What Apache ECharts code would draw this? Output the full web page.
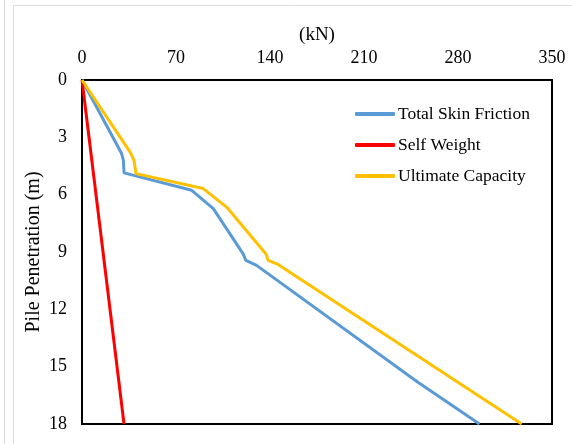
<!DOCTYPE html>
<html>
<head>
<meta charset="utf-8">
<script src="https://cdn.jsdelivr.net/npm/echarts@6/dist/echarts.min.js"></script>
<style>
html,body{margin:0;padding:0;background:#fff;}
#chart{width:572px;height:444px;}
</style>
</head>
<body>
<div id="chart"></div>
<script>
var xTicks = [0, 70, 140, 210, 280, 350];
var yTicks = [0, 3, 6, 9, 12, 15, 18];

var skinForce = [0, 29.5, 30.8, 31.3, 81.7, 97.8, 120, 122, 130, 250.4, 254, 296];
var skinDepth = [0, 3.85, 4.2, 4.86, 5.77, 6.73, 9.1, 9.44, 9.7, 15.83, 16.0, 18];

var selfForce = [0, 31.3];
var selfDepth = [0, 18];

var capForce = [0, 36.2, 38.7, 40.2, 90.3, 107.7, 137, 138.7, 146, 327.4];
var capDepth = [0, 3.81, 4.2, 4.9, 5.68, 6.65, 9.1, 9.44, 9.65, 18];

function pairs(xs, ys) {
  return xs.map(function (x, i) { return [x, ys[i]]; });
}

var font = "'Liberation Serif', 'Times New Roman', serif";
var chart = echarts.init(document.getElementById('chart'), null, {renderer: 'canvas'});
chart.setOption({
  animation: false,
  backgroundColor: '#fff',
  textStyle: {fontFamily: font, color: '#000'},
  graphic: [
    {type: 'line', shape: {x1: 4.5, y1: 0, x2: 4.5, y2: 444}, style: {stroke: '#dcdcdc', lineWidth: 1}, silent: true},
    {type: 'rect', shape: {x: 13.5, y: 5.5, width: 700, height: 600}, style: {fill: null, stroke: '#dcdcdc', lineWidth: 1}, silent: true}
  ],
  grid: {left: 82, right: 20, top: 80, bottom: 20, show: true, borderColor: '#000', borderWidth: 2, backgroundColor: 'transparent'},
  legend: {
    orient: 'vertical',
    left: 350,
    top: 100,
    itemWidth: 40,
    itemHeight: 4,
    itemGap: 13,
    icon: 'roundRect',
    textStyle: {fontFamily: font, fontSize: 17.5, color: '#000', padding: [0, 0, 0, -2]},
    data: ['Total Skin Friction', 'Self Weight', 'Ultimate Capacity']
  },
  xAxis: {
    type: 'value',
    position: 'top',
    min: xTicks[0],
    max: xTicks[xTicks.length - 1],
    interval: xTicks[1] - xTicks[0],
    name: '(kN)',
    nameLocation: 'middle',
    nameGap: 35,
    nameMoveOverlap: false,
    nameTextStyle: {fontFamily: font, fontSize: 19, color: '#000'},
    axisLine: {show: true, lineStyle: {color: '#000', width: 2}},
    axisTick: {show: false},
    splitLine: {show: false},
    axisLabel: {fontFamily: font, fontSize: 18, color: '#000', margin: 13}
  },
  yAxis: {
    type: 'value',
    inverse: true,
    min: yTicks[0],
    max: yTicks[yTicks.length - 1],
    interval: yTicks[1] - yTicks[0],
    name: 'Pile Penetration (m)',
    nameLocation: 'middle',
    nameGap: 38,
    nameMoveOverlap: false,
    nameRotate: 90,
    nameTextStyle: {fontFamily: font, fontSize: 20, color: '#000'},
    axisLine: {show: true, lineStyle: {color: '#000', width: 2}},
    axisTick: {show: false},
    splitLine: {show: false},
    axisLabel: {fontFamily: font, fontSize: 18, color: '#000', margin: 15}
  },
  series: [
    {name: 'Total Skin Friction', type: 'line', data: pairs(skinForce, skinDepth), showSymbol: false, color: '#5B9BD5', lineStyle: {width: 3, color: '#5B9BD5'}},
    {name: 'Self Weight', type: 'line', data: pairs(selfForce, selfDepth), showSymbol: false, color: '#FF0000', lineStyle: {width: 3, color: '#FF0000'}},
    {name: 'Ultimate Capacity', type: 'line', data: pairs(capForce, capDepth), showSymbol: false, color: '#FFC000', lineStyle: {width: 3, color: '#FFC000'}}
  ]
});
</script>
</body>
</html>
